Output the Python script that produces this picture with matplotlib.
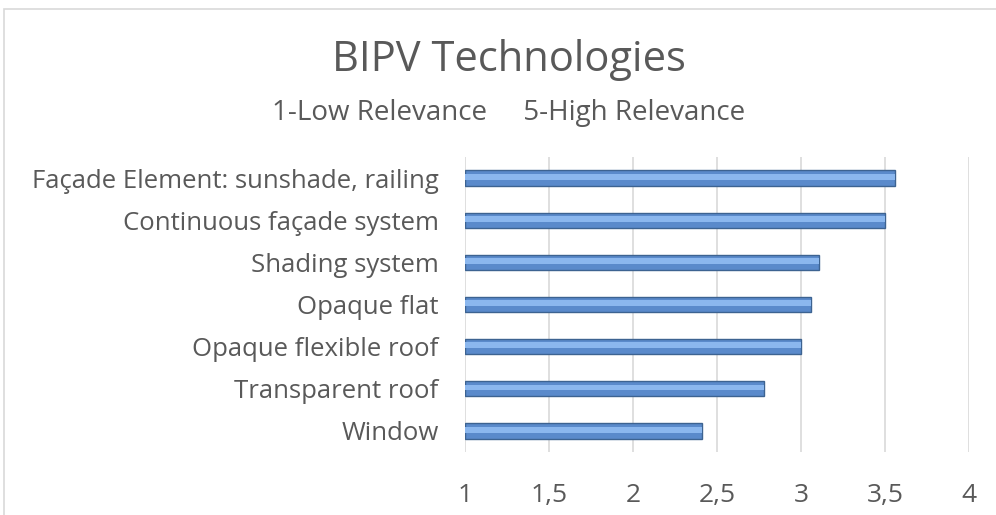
import matplotlib
matplotlib.use("Agg")
import matplotlib.pyplot as plt
from matplotlib.patches import Rectangle

categories = ["Window", "Transparent roof", "Opaque flexible roof", "Opaque flat",
              "Shading system", "Continuous façade system", "Façade Element: sunshade, railing"]
values = [2.41, 2.78, 3.0, 3.06, 3.11, 3.5, 3.56]
xticks = [1, 1.5, 2, 2.5, 3, 3.5, 4]
xticklabels = ["1", "1,5", "2", "2,5", "3", "3,5", "4"]

plt.rcParams['font.family'] = ['Open Sans', 'DejaVu Sans']
W, H = 996, 515
fig = plt.figure(figsize=(W/100, H/100), dpi=100)
ax = fig.add_axes([465/W, 1-452/H, (969-465)/W, (452-157)/H])

txt = '#595959'
base = 1
y = list(range(len(categories)))
h = 0.36
ax.barh(y, [v - base for v in values], left=base, height=h, color='#5A8ACB',
        edgecolor='#3D6391', linewidth=1.0, zorder=3)
ax.barh([yy + 0.03 for yy in y], [v - base for v in values], left=base, height=h*0.38,
        color='#8BB7EE', linewidth=0, zorder=4)

ax.set_xlim(1, 4)
ax.set_ylim(-0.5, len(categories) - 0.5)
ax.set_yticks(y)
ax.set_yticklabels(categories, fontsize=18.5, color=txt)
ax.set_xticks(xticks)
ax.set_xticklabels(xticklabels, fontsize=19, color=txt)
ax.tick_params(length=0)
ax.tick_params(axis='x', pad=22)
ax.tick_params(axis='y', pad=19)
ax.grid(axis='x', color='#D9D9D9', linewidth=1.2, zorder=0)
for s in ax.spines.values():
    s.set_visible(False)

fig.text(509/W, 1-60/H, "BIPV Technologies", ha='center', va='center', fontsize=30, color=txt)
fig.text(509/W, 1-113/H, "1-Low Relevance     5-High Relevance", ha='center', va='center',
         fontsize=20, color=txt)

fig.patches.append(Rectangle((4/W, -0.1), 1.2, 1 - 9/H + 0.1, transform=fig.transFigure,
                             fill=False, edgecolor='#D9D9D9', linewidth=1.2))

fig.savefig("out.png", dpi=100)
